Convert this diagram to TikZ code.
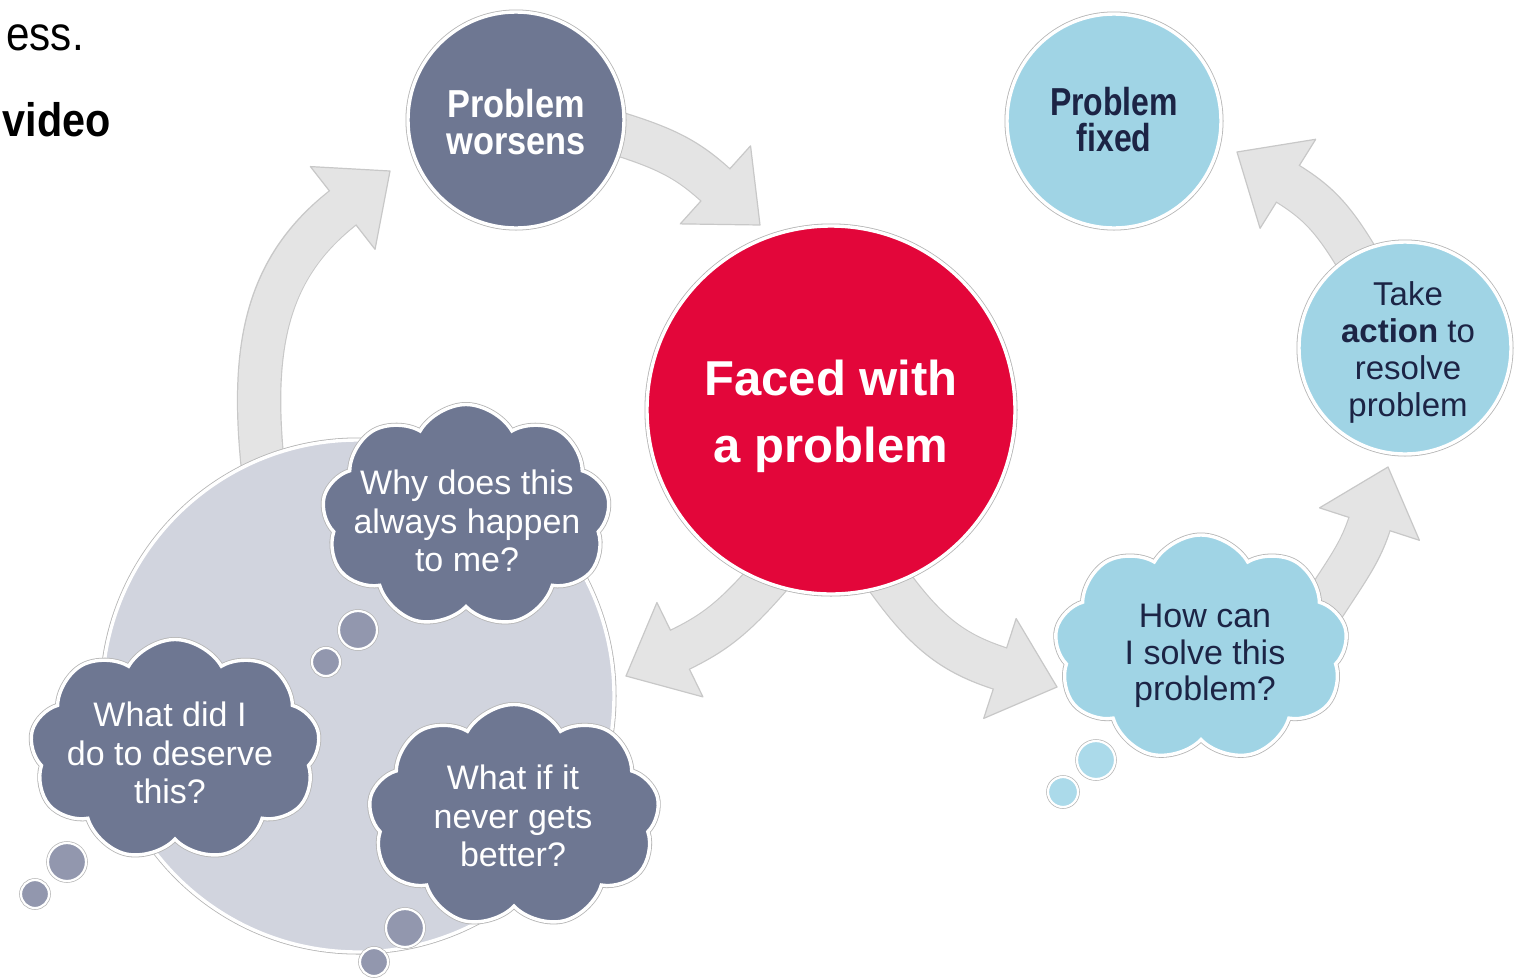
\documentclass[tikz,border=0pt]{standalone}
\usepackage{fontspec}
\setmainfont{Liberation Sans}
\newfontfamily\worsensfont[FakeStretch=0.88]{Liberation Sans}
\newfontfamily\fixedfont[FakeStretch=0.82]{Liberation Sans}
\usetikzlibrary{shapes.symbols}
\pgfdeclarelayer{back}
\pgfsetlayers{back,main}
\definecolor{slate}{HTML}{6E7792}
\definecolor{slatelt}{HTML}{9297AE}
\definecolor{skyb}{HTML}{A0D4E5}
\definecolor{skylt}{HTML}{ABDAEA}
\definecolor{redc}{HTML}{E3063A}
\definecolor{pale}{HTML}{D1D4DE}
\definecolor{navy}{HTML}{1C2445}
\definecolor{arrowfill}{HTML}{E4E4E4}
\definecolor{arrowline}{HTML}{C8C8C8}
\definecolor{rim}{HTML}{B4B4B4}
% #1 start anchor, #2 out angle, #3 tip coordinate, #4 tip direction, #5 in angle
\newcommand\blockarrow[5]{%
  \path (#3) ++(#5:60) coordinate (#3-base);
  \draw[bodyedge] (#1) to[out=#2,in=#5] (#3-base);
  \filldraw[headshape,shift={(#3)},rotate=#4] (0,0) -- (-60,52.5) -- (-60,-52.5) -- cycle;
  \draw[bodyfill] (#1) to[out=#2,in=#5] (#3-base);}
\tikzset{
  rimmed/.style={preaction={draw=rim,line width=5pt},draw=white,line width=3.4pt},
  smallrim/.style={preaction={draw=rim,line width=3.6pt},draw=white,line width=2.2pt},
  ball/.style={circle,inner sep=0pt,rimmed},
  bubble/.style={circle,inner sep=0pt,smallrim},
  puff/.style={cloud,cloud puffs=9,cloud puff arc=120,cloud ignores aspect,inner sep=0pt,rimmed},
  thought/.style={align=center,font=\fontsize{34}{38.5}\selectfont,inner sep=0pt},
  bodyedge/.style={draw=arrowline,line width=44.4pt,shorten <=-30pt},
  bodyfill/.style={draw=arrowfill,line width=42pt,shorten <=-30pt,shorten >=-2pt},
  headshape/.style={fill=arrowfill,draw=arrowline,line width=1.2pt,line join=round},
}
\begin{document}
\begin{tikzpicture}[x=1pt,y=1pt]
\useasboundingbox (0,0) rectangle (1524,-978);
% top-left fragments
\node[anchor=base east,font=\worsensfont\fontsize{48}{48}\selectfont,inner sep=0pt] (ess) at (84,-50) {ess.};
\node[anchor=base east,font=\worsensfont\bfseries\fontsize{47}{47}\selectfont,inner sep=0pt] (video) at (111,-136) {video};
% circles
\node[ball,fill=pale,minimum size=512pt] (mind) at (358,-696) {};
\node[ball,fill=slate,minimum size=216pt] (worsens) at (516,-120) {};
\node[font=\worsensfont\bfseries\fontsize{39}{37}\selectfont,text=white,align=center,inner sep=0pt] (worsensT) at (516,-122) {Problem\\worsens};
\node[ball,fill=skyb,minimum size=214pt] (fixed) at (1114,-121) {};
\node[font=\fixedfont\bfseries\fontsize{39}{36}\selectfont,text=navy,align=center,inner sep=0pt] (fixedT) at (1114,-120) {Problem\\fixed};
\node[ball,fill=redc,minimum size=368pt] (red) at (831,-410) {};
\node[font=\bfseries\fontsize{49}{67}\selectfont,text=white,align=center,inner sep=0pt] (redT) at (831,-416) {Faced with\\a problem};
\node[ball,fill=skyb,minimum size=212pt] (take) at (1405,-348) {};
\node[font=\fontsize{33}{37}\selectfont,text=navy,align=center,inner sep=0pt] (takeT) at (1408,-352) {Take\\\textbf{action} to\\resolve\\problem};
% thought clouds
\node[bubble,fill=slatelt,minimum size=38pt] (whyA) at (358,-630) {};
\node[bubble,fill=slatelt,minimum size=28pt] (whyB) at (326,-662) {};
\node[puff,fill=slate,minimum width=288pt,minimum height=223pt] (why) at (466,-516) {};
\node[thought,text=white] (whyT) at (467,-521) {Why does this\\always happen\\to me?};
\node[bubble,fill=slatelt,minimum size=38pt] (didA) at (67,-862) {};
\node[bubble,fill=slatelt,minimum size=28pt] (didB) at (35,-894) {};
\node[puff,fill=slate,minimum width=290pt,minimum height=221pt] (did) at (175,-750) {};
\node[thought,text=white] (didT) at (170,-753) {What did I\\do to deserve\\this?};
\node[bubble,fill=slatelt,minimum size=38pt] (neverA) at (405,-928) {};
\node[bubble,fill=slatelt,minimum size=28pt] (neverB) at (374,-962) {};
\node[puff,fill=slate,minimum width=291pt,minimum height=223pt] (never) at (514,-816) {};
\node[thought,text=white] (neverT) at (513,-816) {What if it\\never gets\\better?};
\node[bubble,fill=skylt,minimum size=38pt] (solveA) at (1096,-760) {};
\node[bubble,fill=skylt,minimum size=30pt] (solveB) at (1063,-792) {};
\node[puff,fill=skyb,minimum width=293pt,minimum height=226pt] (solve) at (1201,-648) {};
\node[thought,text=navy,font=\fontsize{34}{36.5}\selectfont] (solveT) at (1205,-656) {How can\\I solve this\\problem?};
% arrow tips
\coordinate (tipA) at (390,-171);
\coordinate (tipB) at (760,-225);
\coordinate (tipC) at (626,-676);
\coordinate (tipD) at (1057,-687);
\coordinate (tipE) at (1388,-467);
\coordinate (tipF) at (1237,-152);
% arrows
\begin{pgfonlayer}{back}
\fill[white] (0,0) rectangle (1524,-978);
\blockarrow{mind.112}{97}{tipA}{38}{218}
\blockarrow{worsens.-8}{-16}{tipB}{-42}{138}
\blockarrow{red.249}{230}{tipC}{206}{26}
\blockarrow{red.289}{-56}{tipD}{-18}{162}
\blockarrow{solve.20}{58}{tipE}{72}{252}
\blockarrow{take.118}{119}{tipF}{148}{328}
\end{pgfonlayer}
\end{tikzpicture}
\end{document}
